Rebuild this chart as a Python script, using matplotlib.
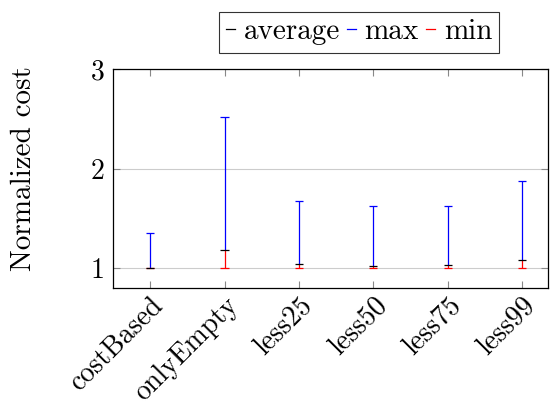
import matplotlib.pyplot as plt
from matplotlib.lines import Line2D
import numpy as np

plt.rcParams['font.family'] = 'cmr10'
plt.rcParams['axes.formatter.use_mathtext'] = True
plt.rcParams['mathtext.fontset'] = 'cm'

categories = ['costBased', 'onlyEmpty', 'less25', 'less50', 'less75', 'less99']
avg_vals = [1.005, 1.18, 1.04, 1.02, 1.03, 1.08]
max_vals = [1.35, 2.52, 1.67, 1.62, 1.62, 1.87]
min_vals = [1.0, 1.0, 1.0, 1.0, 1.0, 1.0]

fig = plt.figure(figsize=(5.6, 4.07), dpi=100)
ax = fig.add_axes([113 / 560, 1 - 288 / 407, 435 / 560, 219 / 407])

x = np.arange(len(categories))
cap = 0.055
ax.vlines(x, avg_vals, max_vals, color='blue', lw=0.9, zorder=3)
ax.vlines(x, min_vals, avg_vals, color='red', lw=0.9, zorder=3)
ax.hlines(max_vals, x - cap, x + cap, color='blue', lw=0.9, zorder=3)
ax.hlines(min_vals, x - cap, x + cap, color='red', lw=0.9, zorder=4)
ax.hlines(avg_vals, x - cap, x + cap, color='black', lw=0.9, zorder=5)

ax.set_xlim(-0.5, 5.35)
ax.set_ylim(0.8, 3)
ax.set_yticks([1, 2, 3])
ax.set_yticklabels(['1', '2', '3'])
ax.set_xticks(x)
ax.set_xticklabels(categories, rotation=45, ha='right', va='top',
                   rotation_mode='anchor', fontsize=21)
ax.yaxis.grid(True, color='#cccccc', lw=0.8, zorder=0)
ax.set_axisbelow(True)
ax.tick_params(direction='in', top=True, right=True, length=5, width=0.8,
               color='#888888', labelsize=20, pad=6)
ax.tick_params(axis='x', pad=3)
for s in ax.spines.values():
    s.set_linewidth(0.9)
ax.set_ylabel('Normalized cost', fontsize=21)
ax.yaxis.set_label_coords(-0.175, 0.546)

handles = [Line2D([], [], color='black', lw=0.9),
           Line2D([], [], color='blue', lw=0.9),
           Line2D([], [], color='red', lw=0.9)]
leg = fig.legend(handles, ['average', 'max', 'min'], loc='center',
                 bbox_to_anchor=(359 / 560, 1 - 32 / 407), ncol=3,
                 fontsize=21, handlelength=0.3, handletextpad=0.3,
                 columnspacing=0.25, frameon=True, fancybox=False,
                 borderpad=0.25, borderaxespad=0)
leg.get_frame().set_edgecolor('black')
leg.get_frame().set_linewidth(0.8)

fig.savefig('out.png', dpi=100)
